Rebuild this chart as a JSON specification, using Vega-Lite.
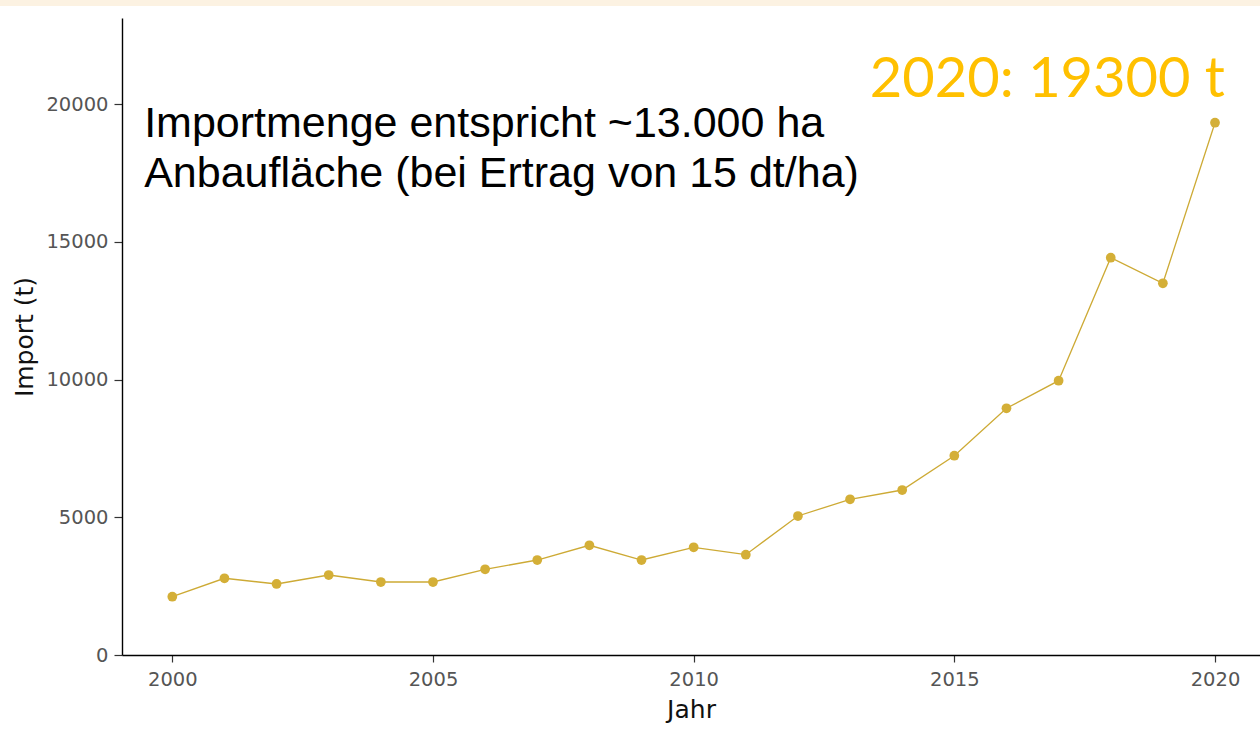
{
  "$schema": "https://vega.github.io/schema/vega-lite/v6.json",
  "width": 1138,
  "height": 637,
  "autosize": {"type": "none"},
  "padding": {"left": 122, "top": 18, "right": 0, "bottom": 76},
  "background": "white",
  "config": {
    "view": {"stroke": null},
    "axis": {
      "grid": false,
      "domainColor": "#000000",
      "domainWidth": 1.4,
      "tickColor": "#333333",
      "tickWidth": 1.2,
      "labelFont": "DejaVu Sans",
      "labelColor": "#555555",
      "labelFontSize": 19.5,
      "titleFont": "DejaVu Sans",
      "titleFontWeight": "normal",
      "titleColor": "#111111",
      "titleFontSize": 25
    }
  },
  "layer": [
    {
      "data": {"values": [{"x1": 1996.6, "x2": 2021, "y1": 23570, "y2": 23800}]},
      "mark": {"type": "rect", "color": "#FCF2E2", "clip": false},
      "encoding": {
        "x": {"field": "x1", "type": "quantitative", "scale": {"domain": [1999.035, 2020.863], "nice": false, "zero": false}},
        "x2": {"field": "x2"},
        "y": {"field": "y1", "type": "quantitative"},
        "y2": {"field": "y2"}
      }
    },
    {
      "data": {"values": [
        {"Jahr": 2000, "Import": 2117},
        {"Jahr": 2001, "Import": 2786},
        {"Jahr": 2002, "Import": 2579},
        {"Jahr": 2003, "Import": 2905},
        {"Jahr": 2004, "Import": 2651},
        {"Jahr": 2005, "Import": 2651},
        {"Jahr": 2006, "Import": 3112},
        {"Jahr": 2007, "Import": 3450},
        {"Jahr": 2008, "Import": 3984},
        {"Jahr": 2009, "Import": 3450},
        {"Jahr": 2010, "Import": 3911},
        {"Jahr": 2011, "Import": 3643},
        {"Jahr": 2012, "Import": 5048},
        {"Jahr": 2013, "Import": 5655},
        {"Jahr": 2014, "Import": 5992},
        {"Jahr": 2015, "Import": 7238},
        {"Jahr": 2016, "Import": 8960},
        {"Jahr": 2017, "Import": 9962},
        {"Jahr": 2018, "Import": 14429},
        {"Jahr": 2019, "Import": 13499},
        {"Jahr": 2020, "Import": 19332}
      ]},
      "encoding": {
        "x": {
          "field": "Jahr", "type": "quantitative", "title": "Jahr",
          "scale": {"domain": [1999.035, 2020.863], "nice": false, "zero": false},
          "axis": {"values": [2000, 2005, 2010, 2015, 2020], "format": "d", "tickSize": 7, "labelPadding": 8, "titlePadding": 9}
        },
        "y": {
          "field": "Import", "type": "quantitative", "title": "Import (t)",
          "scale": {"domain": [0, 23134], "nice": false},
          "axis": {"values": [0, 5000, 10000, 15000, 20000], "format": "d", "tickSize": 8, "labelPadding": 6, "titlePadding": 8}
        }
      },
      "layer": [
        {"mark": {"type": "line", "color": "#CDAA35", "strokeWidth": 1.3}},
        {"mark": {"type": "point", "filled": true, "color": "#D4AF37", "size": 95, "opacity": 1}}
      ]
    },
    {
      "data": {"values": [{"x": 1999.46, "y": 18823, "label": "Importmenge entspricht ~13.000 ha\nAnbaufläche (bei Ertrag von 15 dt/ha)"}]},
      "mark": {"type": "text", "align": "left", "baseline": "alphabetic", "font": "Liberation Sans", "fontSize": 43, "lineHeight": 50, "lineBreak": "\n", "color": "#000000"},
      "encoding": {
        "x": {"field": "x", "type": "quantitative"},
        "y": {"field": "y", "type": "quantitative"},
        "text": {"field": "label"}
      }
    },
    {
      "data": {"values": [{"x": 2013.38, "y": 20254, "label": "2020: 19300 t"}]},
      "mark": {"type": "text", "align": "left", "baseline": "alphabetic", "font": "Lato", "fontSize": 56, "color": "#FFC000"},
      "encoding": {
        "x": {"field": "x", "type": "quantitative"},
        "y": {"field": "y", "type": "quantitative"},
        "text": {"field": "label"}
      }
    }
  ]
}
